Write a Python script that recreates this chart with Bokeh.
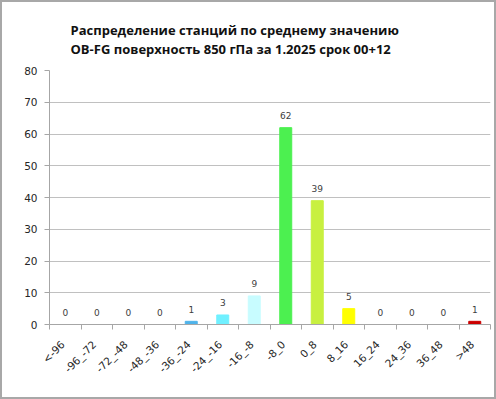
import numpy as np
from bokeh.plotting import figure
from bokeh.models import Range1d, FixedTicker, Title, ColumnDataSource
from bokeh.embed import file_html
from bokeh.resources import INLINE

categories = ["<-96", "-96_-72", "-72_-48", "-48_-36", "-36_-24", "-24_-16", "-16_-8",
              "-8_0", "0_8", "8_16", "16_24", "24_36", "36_48", ">48"]
counts = [0, 0, 0, 0, 1, 3, 9, 62, 39, 5, 0, 0, 0, 1]
bar_colors = ["#1f3fbf", "#2050d0", "#2a70e0", "#3a90e8", "#4fb3ea", "#70f0ff", "#c8fcff",
              "#4cf050", "#c8f040", "#ffff00", "#ffc000", "#ff8000", "#ff4000", "#cc0000"]
y_ticks = [0, 10, 20, 30, 40, 50, 60, 70, 80]
title_lines = ["Распределение станций по среднему значению",
               "OB-FG поверхность  850 гПа за 1.2025 срок 00+12"]

n = len(categories)
centers = list(np.arange(n) + 0.5)
bounds = list(np.arange(n + 1).astype(float))
label_pos = [c - 0.08 for c in centers]

src = ColumnDataSource(dict(x=centers, top=counts, color=bar_colors,
                            lbl=[str(c) for c in counts]))

p = figure(width=496, height=399, output_backend="svg", toolbar_location=None,
           x_range=Range1d(0, n), y_range=Range1d(0, 80),
           min_border_left=47, min_border_right=8, min_border_top=68, min_border_bottom=77,
           styles={"border": "2px solid #a8a8a8", "box-sizing": "border-box"})
p.outline_line_color = None
p.background_fill_color = "white"
p.border_fill_color = "white"

p.vbar(x="x", top="top", width=0.38, fill_color="color", line_color="color", source=src)
p.text(x="x", y="top", text="lbl", source=src, y_offset=-12,
       text_align="center", text_baseline="middle",
       text_font={"value": "DejaVu Sans"}, text_font_size="9px", text_color="#404040")

# axes
p.yaxis.ticker = FixedTicker(ticks=y_ticks)
p.yaxis.major_tick_out = 5
p.yaxis.major_tick_in = 0
p.yaxis.minor_tick_line_color = None
p.yaxis.axis_line_color = "#a6a6a6"
p.yaxis.major_tick_line_color = "#a6a6a6"
p.yaxis.major_label_text_font = "DejaVu Sans"
p.yaxis.major_label_text_font_size = "10.5px"
p.yaxis.major_label_text_color = "#262626"
p.yaxis.major_label_standoff = 7

p.xaxis.ticker = FixedTicker(ticks=label_pos, minor_ticks=bounds)
p.xaxis.major_label_overrides = {c: lab for c, lab in zip(label_pos, categories)}
p.xaxis.major_tick_line_color = None
p.xaxis.minor_tick_line_color = "#a6a6a6"
p.xaxis.minor_tick_out = 5
p.xaxis.minor_tick_in = 0
p.xaxis.axis_line_color = "#a6a6a6"
p.xaxis.major_label_orientation = np.pi / 4
p.xaxis.major_label_text_font = "DejaVu Sans"
p.xaxis.major_label_text_font_size = "10.5px"
p.xaxis.major_label_text_color = "#262626"
p.xaxis.major_label_standoff = 12

p.xgrid.visible = False
p.ygrid.ticker = FixedTicker(ticks=y_ticks)
p.ygrid.grid_line_color = "#c0c0c0"

# two-line title
p.add_layout(Title(text="\n".join(title_lines), align="left", offset=21, standoff=24,
                   text_font="Open Sans", text_font_style="bold",
                   text_font_size="13px", text_line_height=1.1,
                   text_color="#111111"), "above")

open("out.html", "w").write(file_html(p, INLINE))
